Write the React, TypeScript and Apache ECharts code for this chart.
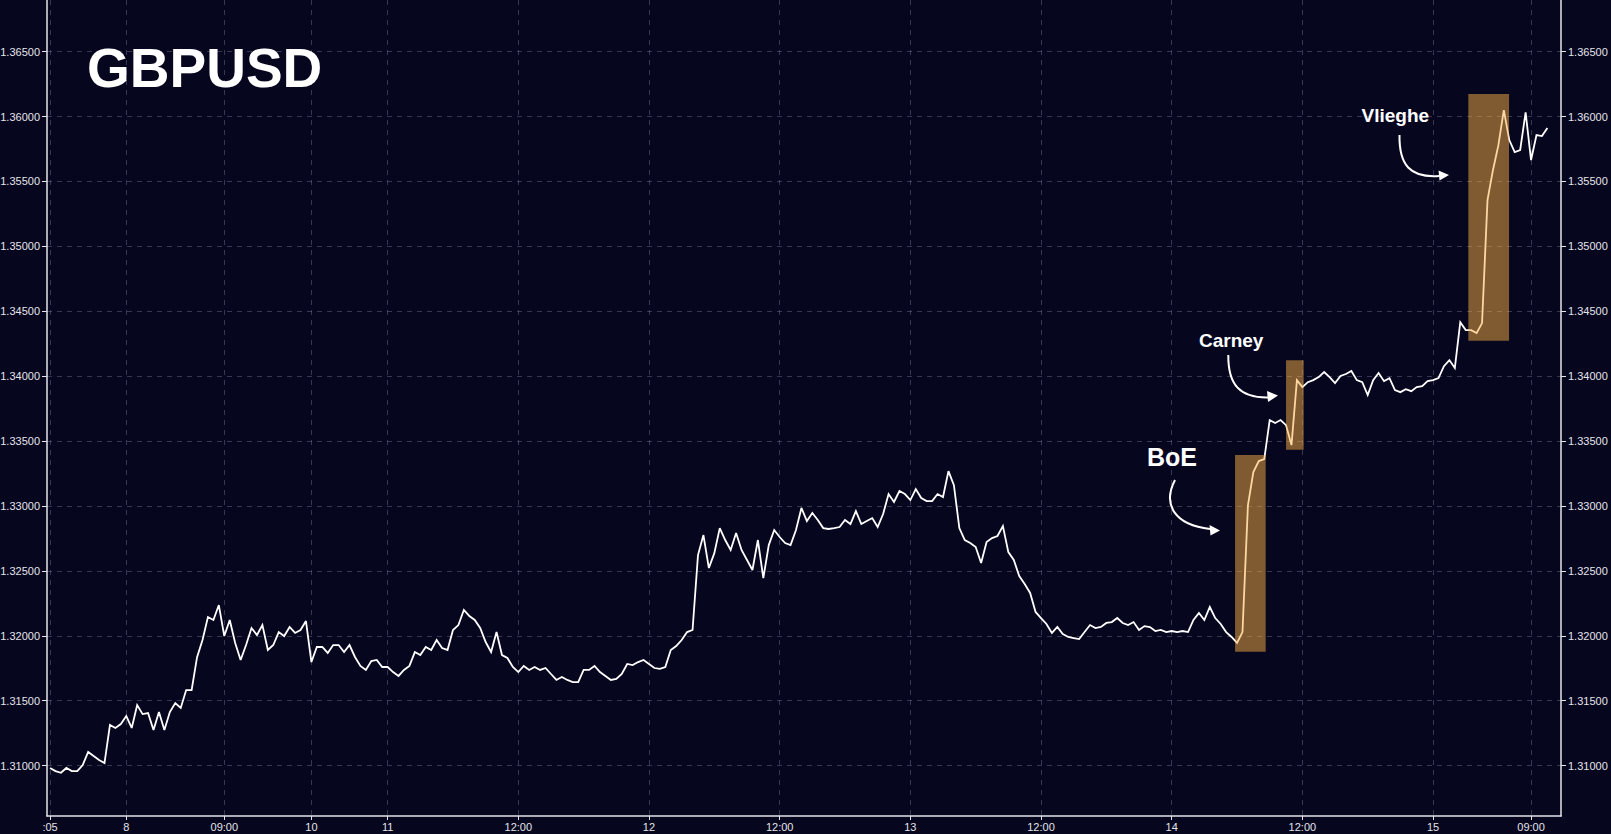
import React, { useEffect, useRef } from "react";
import * as echarts from "echarts";

// GBPUSD, half-hour closes (hours counted from the first tick)
const stepHours = 0.5;
const prices = [
  1.30982, 1.30958, 1.30945, 1.30982, 1.30958, 1.30958, 1.31005, 1.31105, 1.31074, 1.31043,
  1.31020, 1.31313, 1.31290, 1.31320, 1.31382, 1.31290, 1.31467, 1.31397, 1.31405, 1.31274,
  1.31413, 1.31274, 1.31413, 1.31482, 1.31444, 1.31582, 1.31582, 1.31836, 1.31968, 1.32145,
  1.32122, 1.32237, 1.31998, 1.32122, 1.31945, 1.31814, 1.31929, 1.32060, 1.32006, 1.32083,
  1.31891, 1.31929, 1.32029, 1.31998, 1.32068, 1.32022, 1.32045, 1.32114, 1.31798, 1.31914,
  1.31914, 1.31868, 1.31929, 1.31929, 1.31875, 1.31929, 1.31837, 1.31768, 1.31737, 1.31806,
  1.31814, 1.31760, 1.31760, 1.31721, 1.31691, 1.31737, 1.31768, 1.31875, 1.31852, 1.31914,
  1.31891, 1.31968, 1.31906, 1.31891, 1.32045, 1.32083, 1.32199, 1.32153, 1.32122, 1.32060,
  1.31952, 1.31875, 1.32029, 1.31852, 1.31829, 1.31760, 1.31721, 1.31768, 1.31737, 1.31760,
  1.31737, 1.31752, 1.31706, 1.31660, 1.31683, 1.31660, 1.31644, 1.31644, 1.31737, 1.31737,
  1.31768, 1.31721, 1.31691, 1.31660, 1.31668, 1.31706, 1.31783, 1.31775, 1.31798, 1.31814,
  1.31783, 1.31752, 1.31745, 1.31760, 1.31891, 1.31921, 1.31968, 1.32029, 1.32045, 1.32622,
  1.32776, 1.32522, 1.32637, 1.32830, 1.32738, 1.32661, 1.32792, 1.32661, 1.32584, 1.32507,
  1.32738, 1.32445, 1.32699, 1.32815, 1.32761, 1.32715, 1.32699, 1.32815, 1.32985, 1.32884,
  1.32946, 1.32892, 1.32830, 1.32823, 1.32830, 1.32838, 1.32892, 1.32861, 1.32961, 1.32861,
  1.32884, 1.32907, 1.32838, 1.32938, 1.33092, 1.33031, 1.33115, 1.33092, 1.33046, 1.33130,
  1.33062, 1.33038, 1.33038, 1.33092, 1.33069, 1.33269, 1.33161, 1.32830, 1.32738, 1.32715,
  1.32684, 1.32561, 1.32722, 1.32753, 1.32769, 1.32846, 1.32645, 1.32584, 1.32461, 1.32399,
  1.32330, 1.32184, 1.32137, 1.32091, 1.32022, 1.32068, 1.32014, 1.31991, 1.31983, 1.31975,
  1.32029, 1.32083, 1.32060, 1.32068, 1.32099, 1.32106, 1.32137, 1.32099, 1.32083, 1.32106,
  1.32045, 1.32075, 1.32068, 1.32037, 1.32045, 1.32029, 1.32037, 1.32029, 1.32037, 1.32029,
  1.32122, 1.32176, 1.32122, 1.32222, 1.32137, 1.32091, 1.32029, 1.31991, 1.31945, 1.32029,
  1.33005, 1.33261, 1.33346, 1.33361, 1.33662, 1.33639, 1.33662, 1.33623, 1.33469, 1.33970,
  1.33916, 1.33954, 1.33970, 1.33993, 1.34032, 1.33993, 1.33947, 1.34002, 1.34017, 1.34040,
  1.33970, 1.33954, 1.33854, 1.33970, 1.34025, 1.33962, 1.33985, 1.33893, 1.33877, 1.33900,
  1.33885, 1.33916, 1.33923, 1.33962, 1.33970, 1.33985, 1.34077, 1.34124, 1.34063, 1.34416,
  1.34355, 1.34355, 1.34332, 1.34409, 1.35356, 1.35587, 1.35780, 1.36050, 1.35819, 1.35727,
  1.35742, 1.36033, 1.35665, 1.35857, 1.35850, 1.35912,
];

const xTickHours = [0, 7, 16, 24, 31, 43, 55, 67, 79, 91, 103, 115, 127, 136];
const xTickLabels = [":05", "8", "09:00", "10", "11", "12:00", "12", "12:00", "13", "12:00", "14", "12:00", "15", "09:00"];
const xRange = [-0.28, 138.75];

const yTicks = [1.31, 1.315, 1.32, 1.325, 1.33, 1.335, 1.34, 1.345, 1.35, 1.355, 1.36, 1.365];
const yRange = [1.30612, 1.36898];

// highlighted event windows
const eventNames = ["BoE", "Carney", "Vlieghe"];
const eventFrom = [108.82, 113.5, 130.24];
const eventTo = [111.63, 115.12, 133.98];
const eventLow = [1.31878, 1.33434, 1.34274];
const eventHigh = [1.33393, 1.34122, 1.36174];

const BG = "#06061f";
const FG = "#e4e4ea";
const FONT = '"Liberation Sans", Arial, Helvetica, sans-serif';

function arrow(x0: number, y0: number, c1x: number, c1y: number, c2x: number, c2y: number, x1: number, y1: number, tip: number[], b1: number[], b2: number[]) {
  return [
    {
      type: "bezierCurve",
      shape: { x1: x0, y1: y0, cpx1: c1x, cpy1: c1y, cpx2: c2x, cpy2: c2y, x2: x1, y2: y1 },
      style: { stroke: "#ffffff", lineWidth: 2, fill: null },
      z: 20,
    },
    {
      type: "polygon",
      shape: { points: [tip, b1, b2] },
      style: { fill: "#ffffff", stroke: null },
      z: 20,
    },
  ];
}

function label(text: string, x: number, y: number, size: number) {
  return {
    type: "text",
    x,
    y,
    z: 20,
    style: {
      text,
      fill: "#ffffff",
      font: `bold ${size}px ${FONT}`,
      align: "left",
      verticalAlign: "middle",
      textAlign: "left",
      textVerticalAlign: "middle",
    },
  };
}

export default function App() {
  const ref = useRef<HTMLDivElement>(null);

  useEffect(() => {
    if (!ref.current) return;
    const chart = echarts.init(ref.current, undefined, { renderer: "svg" });

    const lineData = prices.map((p, i) => [i * stepHours, p]);
    const areas = eventNames.map((n, i) => [
      { name: n, coord: [eventFrom[i], eventHigh[i]] },
      { coord: [eventTo[i], eventLow[i]] },
    ]);

    const yAxisBase = {
      type: "value",
      min: yRange[0],
      max: yRange[1],
      scale: true,
      axisLine: { show: true, onZero: false, lineStyle: { color: FG, width: 1.5 } },
      axisTick: { show: true, length: 5, customValues: yTicks, lineStyle: { color: FG, width: 1 } },
      axisLabel: {
        show: true,
        customValues: yTicks,
        color: FG,
        fontSize: 11,
        fontFamily: FONT,
        margin: 7,
        formatter: (v: number) => v.toFixed(5),
      },
    };

    chart.setOption({
      animation: false,
      backgroundColor: BG,
      grid: { left: 47, right: 50, top: 0, bottom: 18, containLabel: false, outerBoundsMode: "none" },
      xAxis: {
        type: "value",
        min: xRange[0],
        max: xRange[1],
        axisLine: { show: true, onZero: false, lineStyle: { color: FG, width: 1.5 } },
        axisTick: { show: true, length: 4, customValues: xTickHours, lineStyle: { color: FG } },
        axisLabel: {
          customValues: xTickHours,
          color: FG,
          fontSize: 11,
          fontFamily: FONT,
          margin: 5,
          formatter: (v: number) => {
            const k = xTickHours.indexOf(v);
            return k >= 0 ? xTickLabels[k] : "";
          },
        },
        splitLine: { show: true, lineStyle: { color: "rgba(125,125,155,0.42)", width: 1, type: [5, 5] } },
      },
      yAxis: [
        {
          ...yAxisBase,
          position: "left",
          splitLine: { show: true, lineStyle: { color: "rgba(125,125,155,0.42)", width: 1, type: [5, 5] } },
        },
        {
          ...yAxisBase,
          position: "right",
          splitLine: { show: false },
        },
      ],
      series: [
        {
          type: "line",
          name: "GBPUSD",
          data: lineData,
          showSymbol: false,
          symbol: "none",
          lineStyle: { color: "#ffffff", width: 1.8, join: "miter", miterLimit: 3 },
          z: 2,
        },
        {
          type: "line",
          name: "events",
          data: [],
          z: 10,
          markArea: {
            silent: true,
            z: 10,
            label: { show: false },
            itemStyle: { color: "rgba(249,175,70,0.5)", borderWidth: 0 },
            data: areas,
          },
        },
      ],
      graphic: [
        label("GBPUSD", 87, 67.5, 55),
        label("BoE", 1147, 457, 25),
        label("Carney", 1199, 340.5, 19),
        label("Vlieghe", 1361.5, 115.5, 19),
        ...arrow(1175, 480, 1162, 505, 1175, 525, 1210, 529, [1220, 530.5], [1209.5, 525], [1210.5, 535.5]),
        ...arrow(1228.3, 355, 1228, 385, 1240, 398, 1268, 397.5, [1278, 395.5], [1267, 391], [1268, 402]),
        ...arrow(1399.5, 135, 1399, 165, 1410, 178, 1439, 176, [1449, 175], [1438.5, 170.5], [1439.5, 180.5]),
      ],
    });

    return () => chart.dispose();
  }, []);

  return (
    <div
      style={{ position: "fixed", left: 0, top: 0, width: 1611, height: 834, background: BG }}
    >
      <div ref={ref} style={{ width: 1611, height: 834 }} />
    </div>
  );
}
